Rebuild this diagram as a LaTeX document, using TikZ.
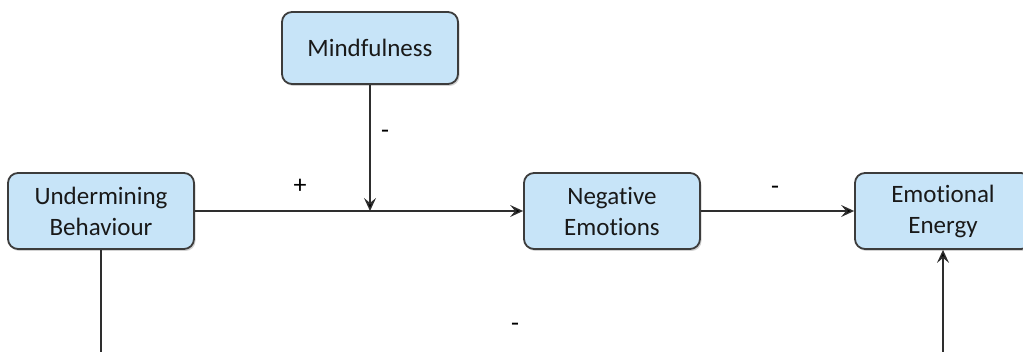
\documentclass[tikz,border=0pt]{standalone}
\usepackage{fontspec}
\setmainfont{Carlito}[Ligatures=NoCommon]
\usetikzlibrary{arrows.meta,positioning,shadows,calc}

\definecolor{boxfill}{HTML}{C7E4F8}
\definecolor{boxline}{HTML}{3C3C3C}
\definecolor{wire}{HTML}{2E2E2E}

\begin{document}
\begin{tikzpicture}[->,>={Stealth[length=13pt,width=12pt,inset=5pt]},x=1pt,y=-1pt,
                    every node/.style={align=center}]
  \tikzstyle{factor}=[draw=boxline,line width=1.8pt,fill=boxfill,rounded corners=10pt,
                      drop shadow={shadow xshift=1.5pt,shadow yshift=-2pt,fill=black!35},
                      minimum height=76pt,minimum width=176pt,inner sep=0pt,
                      text=black!90,font=\fontsize{25}{31}\selectfont]
  \tikzstyle{sign}=[font=\fontsize{26}{30}\selectfont]

  \useasboundingbox (0,0) rectangle (1023,352);
  \clip (0,0) rectangle (1023,352);

  \node[factor,minimum height=72pt] (mind) at (370,48) {Mindfulness};
  \node[factor,minimum width=186pt] (under) at (101,211) {Undermining\\Behaviour};
  \node[factor] (neg) at (612,211) {Negative\\Emotions};
  \node[factor] (energy) at (943,211) {Emotional\\Energy};
  \coordinate (meet) at (mind.south |- under.east);

  \path[draw=wire,line width=1.4pt]
        (under) edge (neg)
        (mind) edge (meet)
        (neg) edge (energy)
        (under.south) edge[-] ($(under.south)+(0,150)$)
        ($(energy.south)+(0,150)$) edge (energy.south);

  \node[sign] at (300,186) {+};
  \node[sign] at (385,134) {-};
  \node[sign] at (775,190) {-};
  \node[sign] at (515,327) {-};
\end{tikzpicture}
\end{document}
